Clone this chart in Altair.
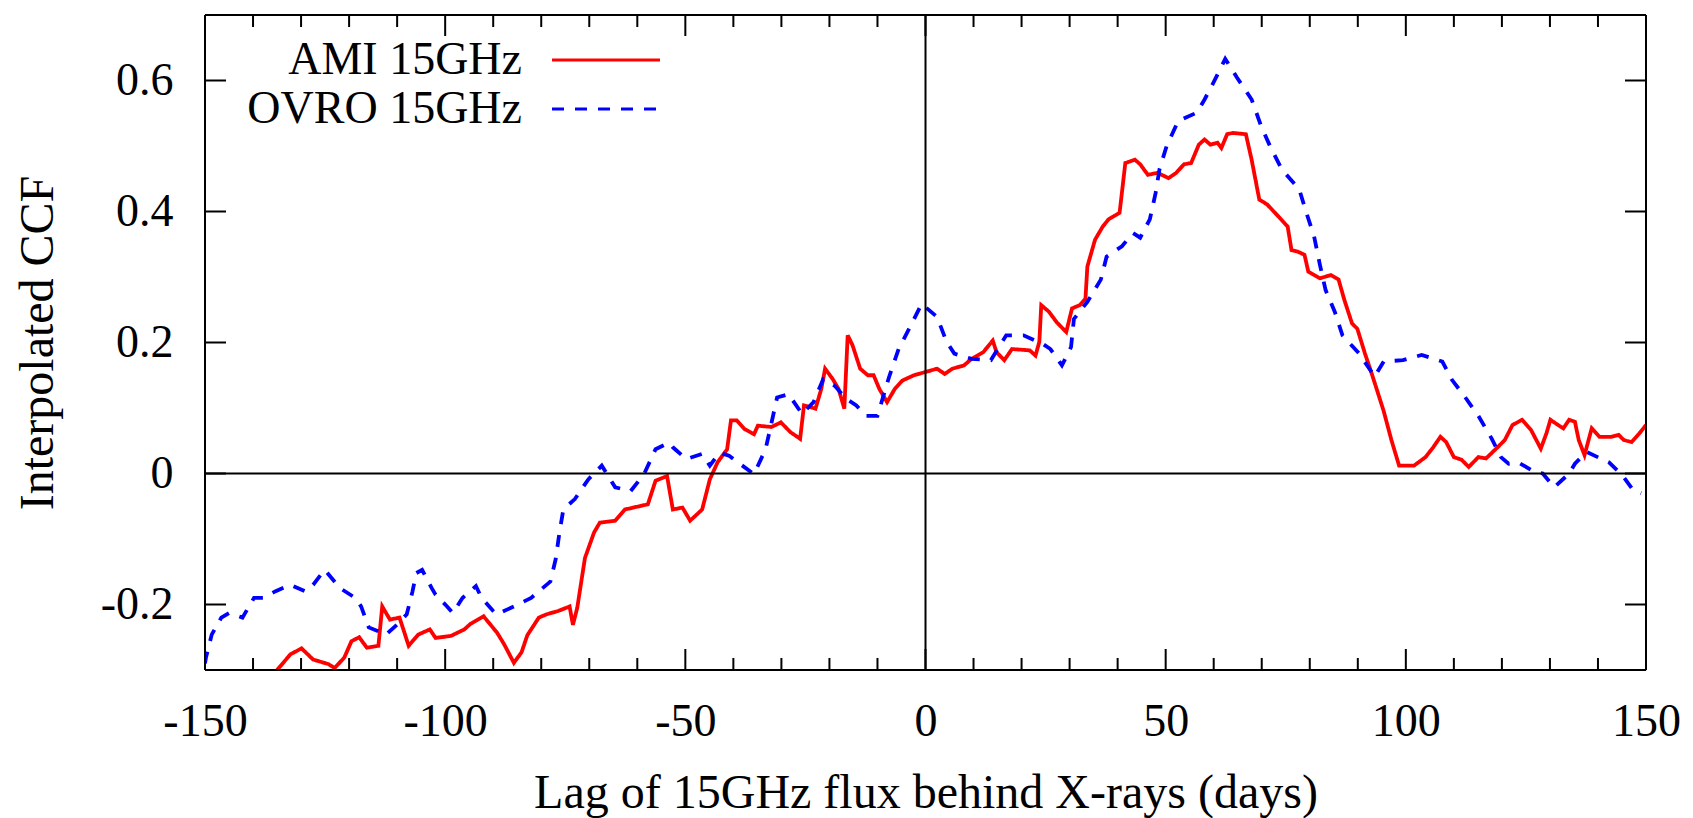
import altair as alt
import pandas as pd

# ---- data ----
ami_lag = [-135.0, -132.2, -129.9, -127.5, -124.3, -123.0, -121.0, -119.5, -117.9, -116.3,
           -113.9, -113.1, -111.5, -109.5, -107.6, -105.6, -103.2, -102.0, -98.8, -96.0,
           -94.8, -92.0, -89.2, -87.7, -85.7, -84.1, -82.9, -80.5, -78.9, -76.5,
           -74.1, -73.4, -72.5, -70.9, -69.0, -67.8, -64.6, -62.6, -57.8, -56.2,
           -53.8, -52.6, -50.6, -49.0, -46.5, -44.9, -43.3, -41.3, -40.5, -39.3,
           -37.7, -35.7, -34.9, -32.1, -30.1, -28.1, -26.1, -25.3, -22.9, -21.7,
           -20.9, -19.3, -18.1, -16.9, -16.2, -15.2, -13.6, -12.0, -10.8, -9.6,
           -8.0, -6.4, -4.8, -2.4, 0.0, 2.4, 4.0, 5.6, 8.0, 9.6,
           12.0, 14.0, 14.8, 16.4, 18.0, 21.7, 22.9, 23.7, 24.1, 25.7,
           27.3, 29.3, 30.5, 32.1, 33.3, 33.7, 35.3, 36.9, 38.1, 40.4,
           40.8, 41.6, 43.6, 44.7, 46.3, 48.3, 50.6, 52.2, 53.8, 55.3,
           56.9, 58.1, 59.3, 60.8, 61.6, 62.8, 64.0, 66.7, 67.9, 69.5,
           71.1, 73.4, 75.4, 76.2, 77.4, 78.9, 79.7, 82.1, 84.4, 86.0,
           87.2, 88.8, 89.9, 91.5, 93.1, 95.4, 97.0, 98.6, 101.7, 104.1,
           105.7, 107.2, 108.4, 110.0, 111.6, 113.1, 115.1, 116.7, 119.1, 120.6,
           122.2, 124.2, 126.1, 128.1, 129.3, 130.1, 131.7, 132.8, 134.0, 135.2,
           136.0, 137.2, 138.7, 140.3, 142.7, 144.3, 145.4, 147.0, 148.6, 150.0]
ami_ccf = [-0.300, -0.276, -0.267, -0.284, -0.291, -0.297, -0.281, -0.256, -0.250, -0.266,
           -0.263, -0.203, -0.223, -0.220, -0.263, -0.246, -0.238, -0.251, -0.248, -0.238,
           -0.230, -0.218, -0.243, -0.261, -0.289, -0.273, -0.247, -0.220, -0.215, -0.210,
           -0.203, -0.231, -0.205, -0.129, -0.090, -0.075, -0.072, -0.055, -0.047, -0.011,
           -0.004, -0.055, -0.052, -0.072, -0.055, -0.009, 0.017, 0.037, 0.081, 0.081,
           0.068, 0.060, 0.073, 0.071, 0.078, 0.063, 0.053, 0.104, 0.099, 0.129,
           0.160, 0.144, 0.129, 0.099, 0.211, 0.196, 0.160, 0.150, 0.150, 0.129,
           0.109, 0.129, 0.142, 0.150, 0.155, 0.160, 0.152, 0.160, 0.165, 0.175,
           0.185, 0.203, 0.185, 0.173, 0.190, 0.188, 0.180, 0.201, 0.257, 0.247,
           0.231, 0.216, 0.252, 0.257, 0.267, 0.316, 0.357, 0.377, 0.388, 0.398,
           0.423, 0.474, 0.479, 0.472, 0.456, 0.459, 0.451, 0.459, 0.472, 0.474,
           0.502, 0.510, 0.502, 0.505, 0.497, 0.518, 0.520, 0.518, 0.479, 0.418,
           0.411, 0.393, 0.377, 0.341, 0.339, 0.334, 0.308, 0.298, 0.303, 0.296,
           0.265, 0.229, 0.221, 0.183, 0.148, 0.095, 0.051, 0.012, 0.012, 0.025,
           0.040, 0.056, 0.048, 0.025, 0.021, 0.010, 0.025, 0.023, 0.040, 0.051,
           0.074, 0.082, 0.066, 0.038, 0.062, 0.082, 0.074, 0.069, 0.082, 0.079,
           0.051, 0.028, 0.069, 0.056, 0.056, 0.059, 0.051, 0.048, 0.061, 0.074]

ovro_lag = [-150.0, -149.8, -148.6, -146.6, -145.0, -142.2, -139.8, -137.8, -135.4, -132.2,
            -129.1, -127.5, -125.1, -121.9, -118.7, -117.5, -115.9, -112.3, -109.9, -108.0,
            -106.8, -106.0, -104.8, -102.8, -102.0, -99.6, -98.4, -96.4, -93.6, -92.4,
            -90.0, -89.3, -85.7, -82.1, -78.1, -77.0, -76.2, -75.4, -73.0, -70.2,
            -67.4, -64.6, -61.4, -58.6, -56.2, -53.4, -52.6, -49.8, -46.5, -44.9,
            -42.9, -40.9, -38.5, -35.7, -33.3, -32.1, -30.9, -28.5, -25.7, -23.3,
            -21.3, -18.9, -16.5, -14.4, -12.4, -10.0, -7.6, -5.6, -3.2, -0.8,
            2.4, 4.4, 6.0, 9.6, 13.6, 16.8, 20.4, 24.4, 26.0, 28.4,
            30.3, 30.9, 33.7, 36.5, 37.7, 40.9, 43.2, 44.7, 46.7, 47.9,
            48.7, 50.2, 52.6, 56.5, 58.1, 60.1, 62.4, 64.8, 67.9, 69.9,
            71.9, 74.2, 77.8, 79.3, 80.9, 82.1, 83.3, 85.2, 86.8, 90.3,
            93.5, 95.4, 99.4, 103.3, 107.6, 109.6, 112.3, 115.1, 117.9, 119.8,
            121.4, 123.4, 126.9, 128.5, 130.9, 134.0, 135.2, 137.6, 142.3, 145.0,
            147.4, 149.0]
ovro_ccf = [-0.290, -0.281, -0.246, -0.220, -0.213, -0.220, -0.190, -0.190, -0.180, -0.170,
            -0.180, -0.170, -0.147, -0.175, -0.190, -0.203, -0.235, -0.246, -0.230, -0.215,
            -0.180, -0.152, -0.147, -0.175, -0.185, -0.203, -0.213, -0.190, -0.172, -0.190,
            -0.210, -0.215, -0.203, -0.190, -0.165, -0.131, -0.090, -0.055, -0.039, -0.009,
            0.012, -0.021, -0.027, -0.001, 0.037, 0.047, 0.040, 0.022, 0.030, 0.012,
            0.032, 0.027, 0.014, -0.001, 0.037, 0.076, 0.116, 0.121, 0.091, 0.109,
            0.144, 0.134, 0.114, 0.104, 0.088, 0.088, 0.147, 0.190, 0.224, 0.259,
            0.239, 0.201, 0.183, 0.175, 0.173, 0.211, 0.211, 0.198, 0.190, 0.165,
            0.193, 0.236, 0.262, 0.296, 0.331, 0.347, 0.367, 0.360, 0.388, 0.428,
            0.464, 0.500, 0.538, 0.551, 0.571, 0.599, 0.633, 0.605, 0.571, 0.530,
            0.497, 0.464, 0.434, 0.398, 0.362, 0.319, 0.280, 0.247, 0.211, 0.183,
            0.148, 0.171, 0.173, 0.181, 0.171, 0.143, 0.117, 0.088, 0.053, 0.025,
            0.015, 0.017, 0.002, 0.000, -0.021, 0.000, 0.015, 0.033, 0.017, -0.002,
            -0.026, -0.030]

series_names = ["AMI 15GHz", "OVRO 15GHz"]
series_colors = ["#ff0000", "#0000ff"]
series_dashes = [[1, 0], [12, 11]]
x_domain = [-150, 150]
y_domain = [-0.3, 0.7]
x_label_values = [-150, -100, -50, 0, 50, 100, 150]
x_minor_values = [v for v in range(-140, 150, 10) if v % 50 != 0]
y_label_values = [-0.2, 0, 0.2, 0.4, 0.6]

x_title = "Lag of 15GHz flux behind X-rays (days)"
y_title = "Interpolated CCF"

# ---- build tables ----
df = pd.concat([
    pd.DataFrame({"series": series_names[0], "lag": ami_lag, "ccf": ami_ccf, "order": range(len(ami_lag))}),
    pd.DataFrame({"series": series_names[1], "lag": ovro_lag, "ccf": ovro_ccf, "order": range(len(ovro_lag))}),
], ignore_index=True)

W, H = 1441, 655
FONT = "Liberation Serif"
MAJ, MIN = 21, 12  # tick lengths in pixels

xscale = alt.Scale(domain=x_domain, nice=False, zero=False)
yscale = alt.Scale(domain=y_domain, nice=False, zero=False)

common_axis = dict(tickOpacity=0, domainOpacity=0, gridOpacity=0,
                   labelFont=FONT, labelFontSize=46, labelColor="black",
                   titleFont=FONT, titleFontSize=48, titleFontWeight="normal",
                   titleColor="black", titleBaseline="alphabetic")
x_axis = alt.Axis(values=x_label_values, title=x_title, labelExpr="datum.value + ''",
                  labelPadding=24, titleY=137, labelFlush=False, **common_axis)
y_axis = alt.Axis(values=y_label_values, title=y_title, labelExpr="datum.value + ''",
                  labelPadding=27, titleX=-153, titleAngle=-90, **common_axis)

lines = alt.Chart(df).mark_line(clip=True, strokeWidth=3.8, strokeCap="butt").encode(
    x=alt.X("lag:Q", scale=xscale, axis=x_axis),
    y=alt.Y("ccf:Q", scale=yscale, axis=y_axis),
    color=alt.Color("series:N", scale=alt.Scale(domain=series_names, range=series_colors),
                    legend=None),
    strokeDash=alt.StrokeDash("series:N",
                              scale=alt.Scale(domain=series_names, range=series_dashes),
                              legend=None),
    detail="series:N",
    order="order:Q",
)

# ---- inward ticks on all four sides ----
xt_major = pd.DataFrame({"v": x_label_values})
xt_minor = pd.DataFrame({"v": x_minor_values})
yt_major = pd.DataFrame({"v": y_label_values})

def xticks(data, length):
    base = alt.Chart(data).mark_rule(color="black", strokeWidth=2)
    bottom = base.encode(x=alt.X("v:Q", scale=xscale, title=x_title),
                         y=alt.value(H), y2=alt.value(H - length))
    top = base.encode(x=alt.X("v:Q", scale=xscale, title=x_title),
                      y=alt.value(0), y2=alt.value(length))
    return [bottom, top]

def yticks(data, length):
    base = alt.Chart(data).mark_rule(color="black", strokeWidth=2)
    left = base.encode(y=alt.Y("v:Q", scale=yscale, title=y_title),
                       x=alt.value(0), x2=alt.value(length))
    right = base.encode(y=alt.Y("v:Q", scale=yscale, title=y_title),
                        x=alt.value(W), x2=alt.value(W - length))
    return [left, right]

# ---- frame and zero lines ----
xframe = pd.DataFrame({"v": x_domain})
yframe = pd.DataFrame({"v": y_domain})
frame_v = alt.Chart(xframe).mark_rule(color="black", strokeWidth=2).encode(
    x=alt.X("v:Q", scale=xscale, title=x_title))
frame_h = alt.Chart(yframe).mark_rule(color="black", strokeWidth=2).encode(
    y=alt.Y("v:Q", scale=yscale, title=y_title))

zero = pd.DataFrame({"v": [0]})
vline = alt.Chart(zero).mark_rule(color="black", strokeWidth=2).encode(
    x=alt.X("v:Q", scale=xscale, title=x_title))
hline = alt.Chart(zero).mark_rule(color="black", strokeWidth=2).encode(
    y=alt.Y("v:Q", scale=yscale, title=y_title))

# ---- legend (label on the left, line sample on the right, inside the plot) ----
legend_layers = []
for i, name in enumerate(series_names):
    ly = 45 + 49 * i
    ldf = pd.DataFrame({"series": [name]})
    legend_layers.append(
        alt.Chart(ldf).mark_text(font=FONT, fontSize=46, align="right", baseline="middle",
                                 color="black").encode(
            text="series:N", x=alt.value(317), y=alt.value(ly)))
    legend_layers.append(
        alt.Chart(ldf).mark_rule(strokeWidth=3, color=series_colors[i],
                                 strokeDash=series_dashes[i], strokeCap="butt").encode(
            x=alt.value(347), x2=alt.value(455), y=alt.value(ly)))

layers = ([lines] + xticks(xt_major, MAJ) + xticks(xt_minor, MIN) + yticks(yt_major, MAJ)
          + [frame_v, frame_h, vline, hline] + legend_layers)

chart = alt.layer(*layers).properties(
    width=W, height=H,
    autosize=alt.AutoSizeParams(type="none"),
    padding={"left": 197, "top": 7, "right": 37, "bottom": 148},
).configure(background="white")

chart.save("out.html", embed_options={"renderer": "svg", "actions": False})
